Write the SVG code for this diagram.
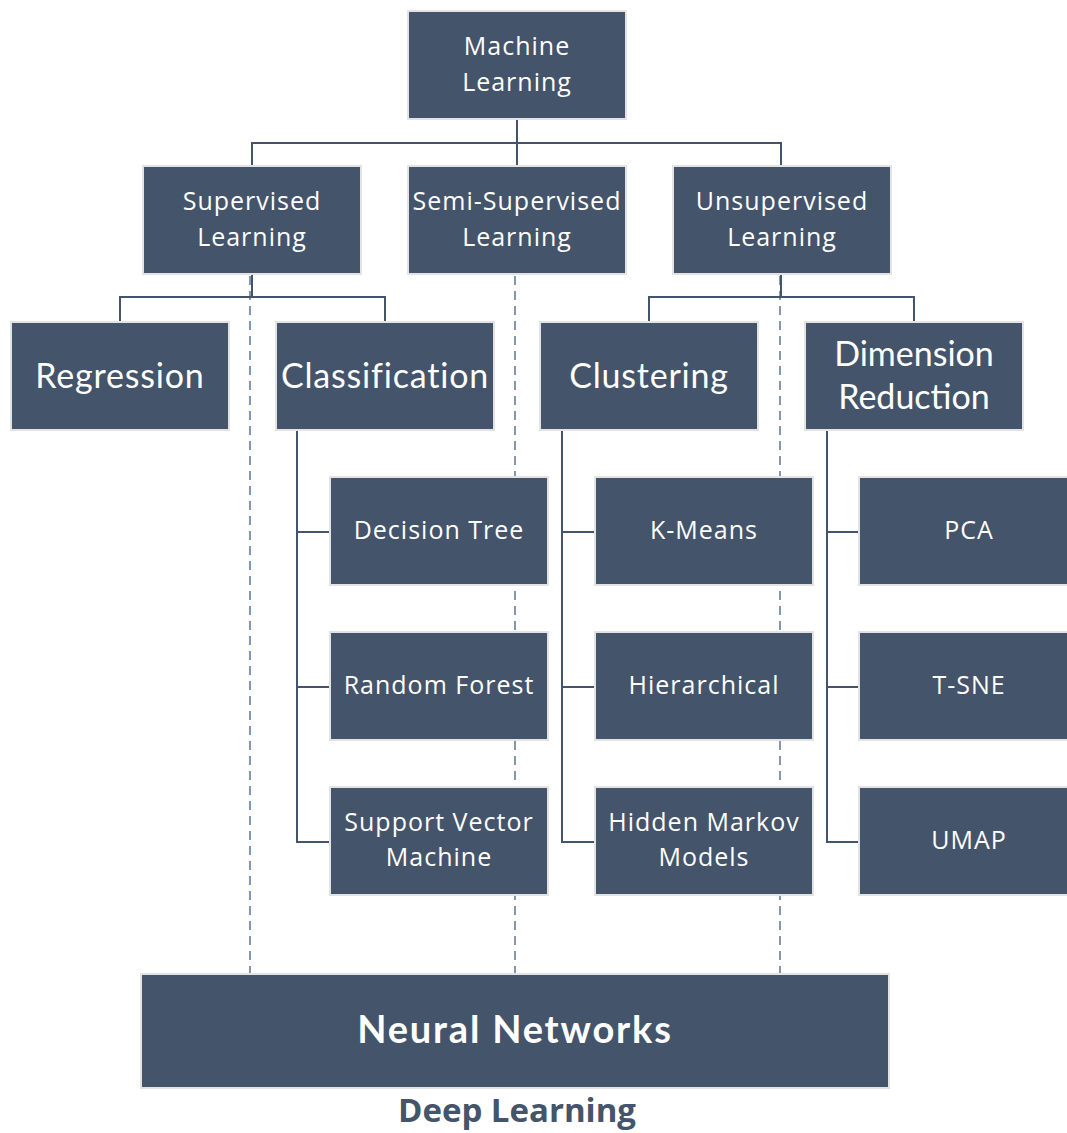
<svg xmlns="http://www.w3.org/2000/svg" width="1067" height="1133" viewBox="0 0 1067 1133">
<style>
.box{fill:#44546A;stroke:#E3E3E3;stroke-width:2}
.t{fill:#fff;font-family:"Open Sans","Liberation Sans",sans-serif;font-size:25px;letter-spacing:1px;text-anchor:middle}
.h{fill:#fff;font-family:Lato,"Noto Sans",sans-serif;font-size:34px;letter-spacing:0.8px;text-anchor:middle}
.h2{letter-spacing:0px}
.nn{fill:#fff;font-family:Lato,"Noto Sans",sans-serif;font-size:38px;letter-spacing:1.8px;font-weight:bold;text-anchor:middle}
.dl{fill:#44546A;font-family:"Open Sans","Liberation Sans",sans-serif;font-size:33px;font-weight:bold;text-anchor:middle}
.ln{fill:none;stroke:#44546A;stroke-width:2}
.dash{fill:none;stroke:#8497B0;stroke-width:2;stroke-dasharray:9 6}
</style>
<rect width="1067" height="1133" fill="#fff"/>
<g id="connectors">
<path class="dash" d="M250 276V973M515 276V973M780 276V973"/>
<path class="ln" d="M517 119V166M252 166V143H781V166"/>
<path class="ln" d="M252 274V297M120 321V297H385V321"/>
<path class="ln" d="M781 274V297M649 321V297H914V321"/>
<path class="ln" d="M297 431V842H330M297 532H330M297 687H330"/>
<path class="ln" d="M562 431V842H595M562 532H595M562 687H595"/>
<path class="ln" d="M827 431V842H859M827 532H859M827 687H859"/>
</g>
<g id="ml"><rect class="box" x="408" y="11" width="218" height="108"/><text class="t" x="517" y="55">Machine</text><text class="t" x="517" y="91">Learning</text></g>
<g id="sup"><rect class="box" x="143" y="166" width="218" height="108"/><text class="t" x="252" y="210">Supervised</text><text class="t" x="252" y="246">Learning</text></g>
<g id="semi"><rect class="box" x="408" y="166" width="218" height="108"/><text class="t" x="517" y="210">Semi-Supervised</text><text class="t" x="517" y="246">Learning</text></g>
<g id="unsup"><rect class="box" x="673" y="166" width="218" height="108"/><text class="t" x="782" y="210">Unsupervised</text><text class="t" x="782" y="246">Learning</text></g>
<g id="reg"><rect class="box" x="11" y="322" width="218" height="108"/><text class="h" x="120" y="388">Regression</text></g>
<g id="cls"><rect class="box" x="276" y="322" width="218" height="108"/><text class="h" x="385" y="388">Classification</text></g>
<g id="clu"><rect class="box" x="540" y="322" width="218" height="108"/><text class="h" x="649" y="388">Clustering</text></g>
<g id="dim"><rect class="box" x="805" y="322" width="218" height="108"/><text class="h h2" x="914" y="366">Dimension</text><text class="h h2" x="914" y="409">Reduction</text></g>
<g id="dt"><rect class="box" x="330" y="477" width="218" height="108"/><text class="t" x="439" y="539">Decision Tree</text></g>
<g id="rf"><rect class="box" x="330" y="632" width="218" height="108"/><text class="t" x="439" y="694">Random Forest</text></g>
<g id="svm"><rect class="box" x="330" y="787" width="218" height="108"/><text class="t" x="439" y="831">Support Vector</text><text class="t" x="439" y="866">Machine</text></g>
<g id="km"><rect class="box" x="595" y="477" width="218" height="108"/><text class="t" x="704" y="539">K-Means</text></g>
<g id="hi"><rect class="box" x="595" y="632" width="218" height="108"/><text class="t" x="704" y="694">Hierarchical</text></g>
<g id="hmm"><rect class="box" x="595" y="787" width="218" height="108"/><text class="t" x="704" y="831">Hidden Markov</text><text class="t" x="704" y="866">Models</text></g>
<g id="pca"><rect class="box" x="859" y="477" width="218" height="108"/><text class="t" x="969" y="539">PCA</text></g>
<g id="tsne"><rect class="box" x="859" y="632" width="218" height="108"/><text class="t" x="969" y="694">T-SNE</text></g>
<g id="umap"><rect class="box" x="859" y="787" width="218" height="108"/><text class="t" x="969" y="849">UMAP</text></g>
<g id="nn"><rect class="box" x="141" y="974" width="748" height="114"/><text class="nn" x="515" y="1043">Neural Networks</text></g>
<text class="dl" x="517" y="1122">Deep Learning</text>
</svg>
